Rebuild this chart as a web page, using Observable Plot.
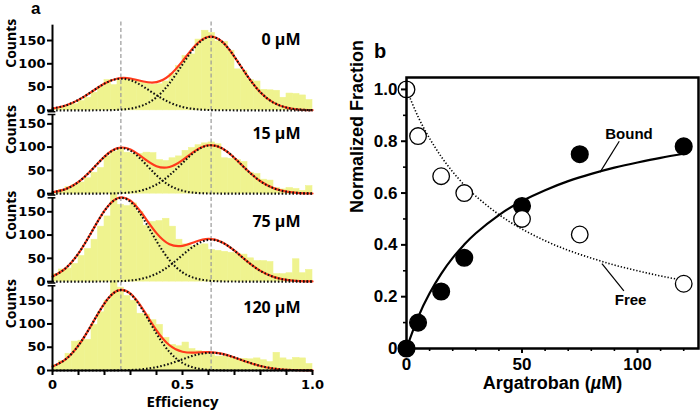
<!DOCTYPE html>
<html><head><meta charset="utf-8">
<script src="https://cdn.jsdelivr.net/npm/d3@7"></script>
<script src="https://cdn.jsdelivr.net/npm/@observablehq/plot@0.6"></script>
<style>
body{margin:0;background:#fff;}
#wrap{position:relative;width:700px;height:413px;overflow:hidden;background:#fff;}
#pa{position:absolute;left:0;top:0;}
#pb{position:absolute;left:350px;top:0;}
#pa svg,#pb svg{overflow:visible;}
.plabel{position:absolute;font-family:"Liberation Sans",Arial,sans-serif;font-weight:bold;font-size:20px;line-height:1;}
</style></head><body>
<div id="wrap">
<div id="pa"></div><div id="pb"></div>
<div class="plabel" style="left:31px;top:0px;font-size:17px;">a</div>
<div class="plabel" style="left:374px;top:41px;">b</div>
</div>
<script>
// ---------- Panel a data ----------
const concLabels = ["0 µM", "15 µM", "75 µM", "120 µM"];
const binWidth = 0.025;
// histogram counts, 40 bins of width 0.025 from E = 0 to 1
const hist0   = [4,6,10,13,20,27,38,50,65,54,66,67,66,62,58,55,56,62,78,95,117,120,152,171,166,148,147,128,88,84,65,62,44,43,42,27,36,35,32,22];
const hist15  = [4,8,14,18,24,33,45,55,80,90,96,88,86,85,88,87,72,70,76,80,92,98,104,108,110,106,76,75,72,68,45,42,30,28,12,9,12,10,6,16];
const hist75  = [16,26,28,38,55,70,90,118,140,190,165,162,168,150,120,128,130,135,118,90,80,76,78,80,68,66,64,62,60,58,50,44,44,42,16,16,18,48,18,25];
const hist120 = [12,20,36,62,64,66,98,125,150,190,178,160,150,122,120,108,98,70,55,52,60,46,42,40,34,30,30,27,25,25,24,26,22,18,38,26,22,27,26,14];
// fitted Gaussian components read at E = 0, 0.05, ..., 1.0
const fitE = [0,0.05,0.1,0.15,0.2,0.25,0.3,0.35,0.4,0.45,0.5,0.55,0.6,0.65,0.7,0.75,0.8,0.85,0.9,0.95,1.0];
const low0    = [3.9,10.4,22.5,39.7,57.3,67.4,64.7,50.7,32.5,17.0,7.2,2.5,0.7,0.2,0,0,0,0,0,0,0];
const high0   = [0,0,0,0,0.2,1.0,3.7,11.2,28.1,58.0,98.4,137.2,157.4,148.4,115.1,73.3,38.5,16.6,5.9,1.7,0.4];
const low15   = [2.9,9.7,25.1,50.6,79.3,96.9,92.2,68.3,39.4,17.7,6.2,1.7,0.4,0.1,0,0,0,0,0,0,0];
const high15  = [0,0,0,0,0.2,0.8,2.7,8.1,19.6,39.5,65.8,90.8,103.6,97.9,76.6,49.6,26.6,11.8,4.3,1.3,0.3];
const low75   = [11.0,28.5,60.8,106.2,152.1,178.4,171.4,135.0,87.1,46.0,19.9,7.1,2.1,0.5,0.1,0,0,0,0,0,0];
const high75  = [0,0,0,0,0.2,0.7,2.4,7.0,17.0,34.2,57.0,78.6,89.7,84.7,66.3,42.9,23.0,10.2,3.7,1.1,0.3];
const low120  = [8.5,23.8,53.9,98.1,144.3,171.3,164.2,126.9,79.2,39.9,16.2,5.3,1.4,0.3,0,0,0,0,0,0,0];
const high120 = [0,0,0,0,0.1,0.3,1.0,2.9,7.2,14.4,24.1,33.2,37.9,35.8,28.0,18.1,9.7,4.3,1.6,0.5,0.1];
const fretPeaks = [0.263, 0.61];
const countTicks = [0, 50, 100, 150];
const effTicks = [0,0.1,0.2,0.3,0.4,0.5,0.6,0.7,0.8,0.9,1.0];
const effTickLabels = ["0","","","","","0.5","","","","","1.0"];

// ---------- Panel b data ----------
const conc = [0, 5, 15, 25, 50, 75, 120];
const boundFrac = [0, 0.10, 0.22, 0.35, 0.55, 0.75, 0.78];
const freeFrac = [1.0, 0.82, 0.665, 0.60, 0.50, 0.44, 0.25];
const fitConc = [0,5,10,15,20,25,30,40,50,60,70,80,90,100,110,120];
const boundFit = [0,0.120,0.213,0.288,0.350,0.401,0.445,0.515,0.569,0.611,0.646,0.674,0.698,0.718,0.736,0.752];
const freeFit = [1.0,0.895,0.811,0.741,0.682,0.631,0.588,0.517,0.461,0.416,0.379,0.349,0.322,0.300,0.280,0.263];
const fracTicks = [0, 0.2, 0.4, 0.6, 0.8, 1.0];
const fracMinor = [0.1, 0.3, 0.5, 0.7, 0.9];
const concTicks = [0, 50, 100];
const concMinor = [10,20,30,40,60,70,80,90,110,120];

// ---------- Panel a build ----------
const hists = [hist0, hist15, hist75, hist120];
const lows = [low0, low15, low75, low120];
const highs = [high0, high15, high75, high120];
const offsets = [559, 380, 191, 0];      // stacking offsets (layout)
const tops = [742, 550, 371, 182];       // top of each panel's axis (layout)
const labelLift = [152, 129, 129, 135];  // label heights (layout)

const panels = concLabels.map((label, i) => ({label, i, off: offsets[i], top: tops[i], lift: labelLift[i]}));
const bars = panels.flatMap(p => hists[p.i].map((c, k) => ({x1: k * binWidth, x2: (k + 1) * binWidth, y1: p.off, y2: p.off + c})));
const fits = panels.flatMap(p => fitE.map((e, j) => ({
  panel: p.i, e,
  low: p.off + lows[p.i][j],
  high: p.off + highs[p.i][j],
  sum: p.off + lows[p.i][j] + highs[p.i][j]
})));
const yTickMap = new Map();
panels.forEach(p => countTicks.forEach(t => yTickMap.set(p.off + t, String(t))));
const yTicks = [...yTickMap.keys()];
const breakYs = panels.slice(0, 3).flatMap(p => [p.off - 3, p.off - 9]);

const yellow = "#eff38f";
const tickFont = "'DejaVu Sans', sans-serif";
const lblFont = "'Open Sans', sans-serif";
const dotted = {stroke: "#111", strokeWidth: 2.1, strokeDasharray: "1.6,2", strokeLinecap: "butt"};

const plotA = Plot.plot({
  width: 330, height: 413,
  marginLeft: 52, marginRight: 18, marginTop: 20, marginBottom: 43,
  x: {domain: [0, 1], axis: null},
  y: {domain: [0, 752], axis: null},
  style: "font-family: 'DejaVu Sans', sans-serif; font-size: 13px; font-weight: bold; background: transparent; overflow: visible;",
  marks: [
    Plot.rect(bars, {x1: "x1", x2: "x2", y1: "y1", y2: "y2", fill: yellow, stroke: yellow, strokeWidth: 0.6}),
    Plot.ruleX(fretPeaks, {y1: 0, y2: 752, stroke: "#999", strokeWidth: 1.2, strokeDasharray: "4,2.5"}),
    Plot.line(fits, {x: "e", y: "sum", z: "panel", curve: "natural", stroke: "#ff3a1c", strokeWidth: 2.2}),
    Plot.line(fits, {x: "e", y: "low", z: "panel", curve: "natural", ...dotted}),
    Plot.line(fits, {x: "e", y: "high", z: "panel", curve: "natural", ...dotted}),
    // broken y axis segments
    Plot.ruleX(panels, {x: 0, y1: p => p.i < 3 ? p.off - 3 : 0, y2: "top", stroke: "#000", strokeWidth: 2}),
    Plot.ruleY(breakYs, {x1: -0.017, x2: 0.013, stroke: "#000", strokeWidth: 1.5}),
    Plot.ruleY([0], {stroke: "#000", strokeWidth: 2}),
    Plot.axisY({ticks: yTicks, tickFormat: d => yTickMap.get(d), tickSize: 5, tickPadding: 2, strokeWidth: 2, label: null,
      fontFamily: tickFont, fontSize: 13, fontWeight: "bold"}),
    Plot.axisX({ticks: effTicks, tickFormat: d => effTickLabels[effTicks.indexOf(d)], tickSize: 5, tickPadding: 4, strokeWidth: 2, label: null,
      fontFamily: tickFont, fontSize: 13, fontWeight: "bold"}),
    Plot.text(["Efficiency"], {frameAnchor: "bottom", dy: 36, fontFamily: lblFont, fontSize: 15, fontWeight: "bold"}),
    Plot.text(panels, {y: p => (p.off + p.top) / 2, text: () => "Counts", frameAnchor: "left", dx: -41, rotate: -90,
      fontFamily: lblFont, fontSize: 14, fontWeight: "bold"}),
    Plot.text(panels, {y: p => p.off + p.lift, text: "label", frameAnchor: "right", textAnchor: "end", dx: -12,
      fontFamily: lblFont, fontSize: 16, fontWeight: "bold"})
  ]
});
document.getElementById("pa").appendChild(plotA);

// ---------- Panel b build ----------
const pts = conc.map((c, i) => ({c, bound: boundFrac[i], free: freeFrac[i]}));
const curve = fitConc.map((c, i) => ({c, bound: boundFit[i], free: freeFit[i]}));
const bFont = "'Liberation Sans', Arial, sans-serif";

const plotB = Plot.plot({
  width: 350, height: 413,
  marginLeft: 56, marginRight: 2, marginTop: 77, marginBottom: 65,
  x: {domain: [0, 126.4], axis: null},
  y: {domain: [0, 1.046], axis: null},
  style: "font-family: 'Liberation Sans', Arial, sans-serif; font-size: 17px; font-weight: bold; background: transparent; overflow: visible;",
  marks: [
    Plot.line(curve, {x: "c", y: "free", curve: "natural", stroke: "#000", strokeWidth: 1.6, strokeDasharray: "1.3,1.9", strokeLinecap: "butt"}),
    Plot.line(curve, {x: "c", y: "bound", curve: "natural", stroke: "#000", strokeWidth: 2.2}),
    Plot.dot(pts, {x: "c", y: "bound", r: 8.3, fill: "#000", stroke: "#000"}),
    Plot.dot(pts, {x: "c", y: "free", r: 8.3, fill: "#fff", stroke: "#000", strokeWidth: 1.3}),
    Plot.link([0], {x1: 92.1, y1: 0.800, x2: 83.8, y2: 0.681, stroke: "#000", strokeWidth: 1.2}),
    Plot.link([0], {x1: 94.1, y1: 0.222, x2: 84.6, y2: 0.328, stroke: "#000", strokeWidth: 1.2}),
    Plot.text(["Bound"], {x: 96.3, y: 0.829, fontFamily: bFont, fontSize: 15, fontWeight: "bold"}),
    Plot.text(["Free"], {x: 97.0, y: 0.187, fontFamily: bFont, fontSize: 15, fontWeight: "bold"}),
    Plot.frame({stroke: "#000", strokeWidth: 2.5}),
    Plot.axisY({ticks: fracTicks, tickFormat: d => d === 0 ? "0" : d.toFixed(1), tickSize: 5, tickPadding: 4, strokeWidth: 2, label: null,
      fontFamily: bFont, fontSize: 17, fontWeight: "bold"}),
    Plot.axisY({ticks: fracMinor, tickFormat: () => "", tickSize: 3, strokeWidth: 1.6, label: null}),
    Plot.axisX({ticks: concTicks, tickSize: 5, tickPadding: 4, strokeWidth: 2, label: null,
      fontFamily: bFont, fontSize: 17, fontWeight: "bold"}),
    Plot.axisX({ticks: concMinor, tickFormat: () => "", tickSize: 3, strokeWidth: 1.6, label: null}),
    Plot.text(["Argatroban (µM)"], {frameAnchor: "bottom", dy: 40, fontFamily: bFont, fontSize: 18, fontWeight: "bold"}),
    Plot.text(["Normalized Fraction"], {frameAnchor: "left", dx: -49, rotate: -90, fontFamily: bFont, fontSize: 18, fontWeight: "bold"})
  ]
});
document.getElementById("pb").appendChild(plotB);

// italic µ in the x-axis title
plotB.querySelectorAll("text").forEach(t => {
  if (t.textContent === "Argatroban (µM)") {
    t.textContent = "";
    const ns = "http://www.w3.org/2000/svg";
    t.appendChild(document.createTextNode("Argatroban ("));
    const mu = document.createElementNS(ns, "tspan");
    mu.setAttribute("font-style", "italic");
    mu.textContent = "µ";
    t.appendChild(mu);
    t.appendChild(document.createTextNode("M)"));
  }
});
</script></body></html>
